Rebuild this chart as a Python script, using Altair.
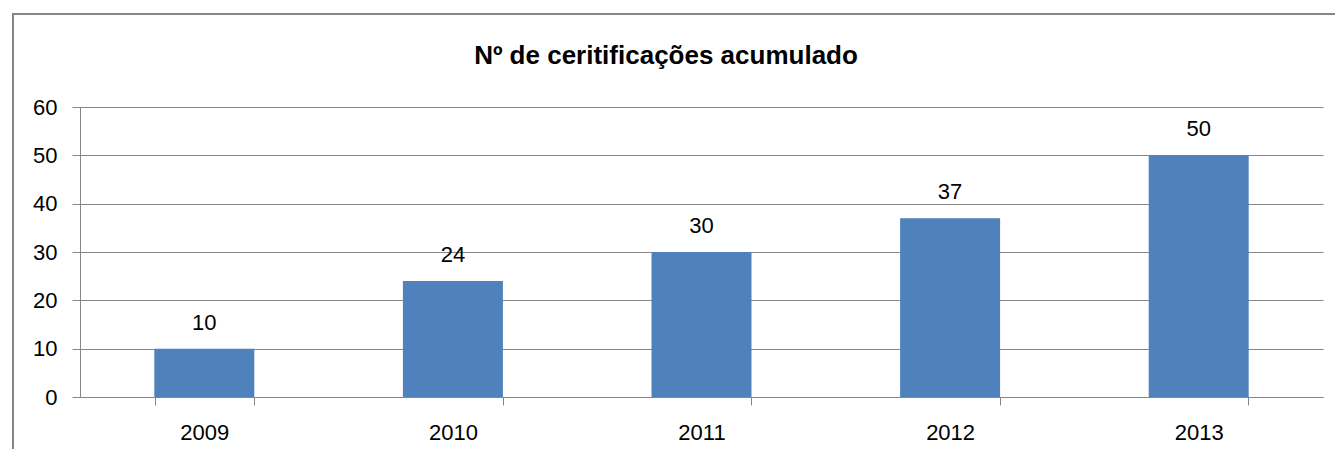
import altair as alt
import pandas as pd

years = ["2009", "2010", "2011", "2012", "2013"]
values = [10, 24, 30, 37, 50]
y_ticks = [0, 10, 20, 30, 40, 50, 60]
title_text = "Nº de ceritificações acumulado"

df = pd.DataFrame({"year": years, "value": values})
title_df = pd.DataFrame({"t": [title_text]})

FONT = "Liberation Sans"
GRAY = "#868686"

x = alt.X("year:N", sort=years, title=None,
          scale=alt.Scale(paddingInner=0.6, paddingOuter=0.3),
          axis=alt.Axis(labelAngle=0, labelFontSize=22, labelFont=FONT, labelColor="#000000",
                        labelPadding=17, tickBand="extent", tickSize=8, tickColor=GRAY,
                        domainColor=GRAY, grid=False))
y = alt.Y("value:Q", title=None,
          scale=alt.Scale(domain=[0, 60], nice=False),
          axis=alt.Axis(values=y_ticks, labelFontSize=22, labelFont=FONT, labelColor="#000000",
                        labelPadding=15, tickSize=8, tickColor=GRAY, domainColor=GRAY,
                        gridColor=GRAY, gridOpacity=1))

bars = alt.Chart(df).mark_bar(color="#4F81BD", size=100).encode(x=x, y=y)
labels = alt.Chart(df).mark_text(baseline="middle", dy=-26, fontSize=22, font=FONT,
                                 color="#000000").encode(x=x, y=y, text="value:Q")

border = alt.Chart(df).mark_rect(filled=False, stroke=GRAY, strokeWidth=2, clip=False).encode(
    x=alt.value(-67), x2=alt.value(1280), y=alt.value(-93), y2=alt.value(380))

title = alt.Chart(title_df).mark_text(font=FONT, fontSize=26, fontWeight="bold",
                                      color="#000000", baseline="middle", align="center").encode(
    x=alt.value(586), y=alt.value(-51), text="t:N")

chart = alt.layer(border, bars, labels, title).properties(
    width=1243, height=290,
    autosize=alt.AutoSizeParams(type="none"),
    padding={"left": 72, "top": 99, "right": 12, "bottom": 52},
).configure_view(stroke=None).configure_axis(domainWidth=1, tickWidth=1, gridWidth=1)

chart.save("out.html", embed_options={"renderer": "svg", "actions": False})
